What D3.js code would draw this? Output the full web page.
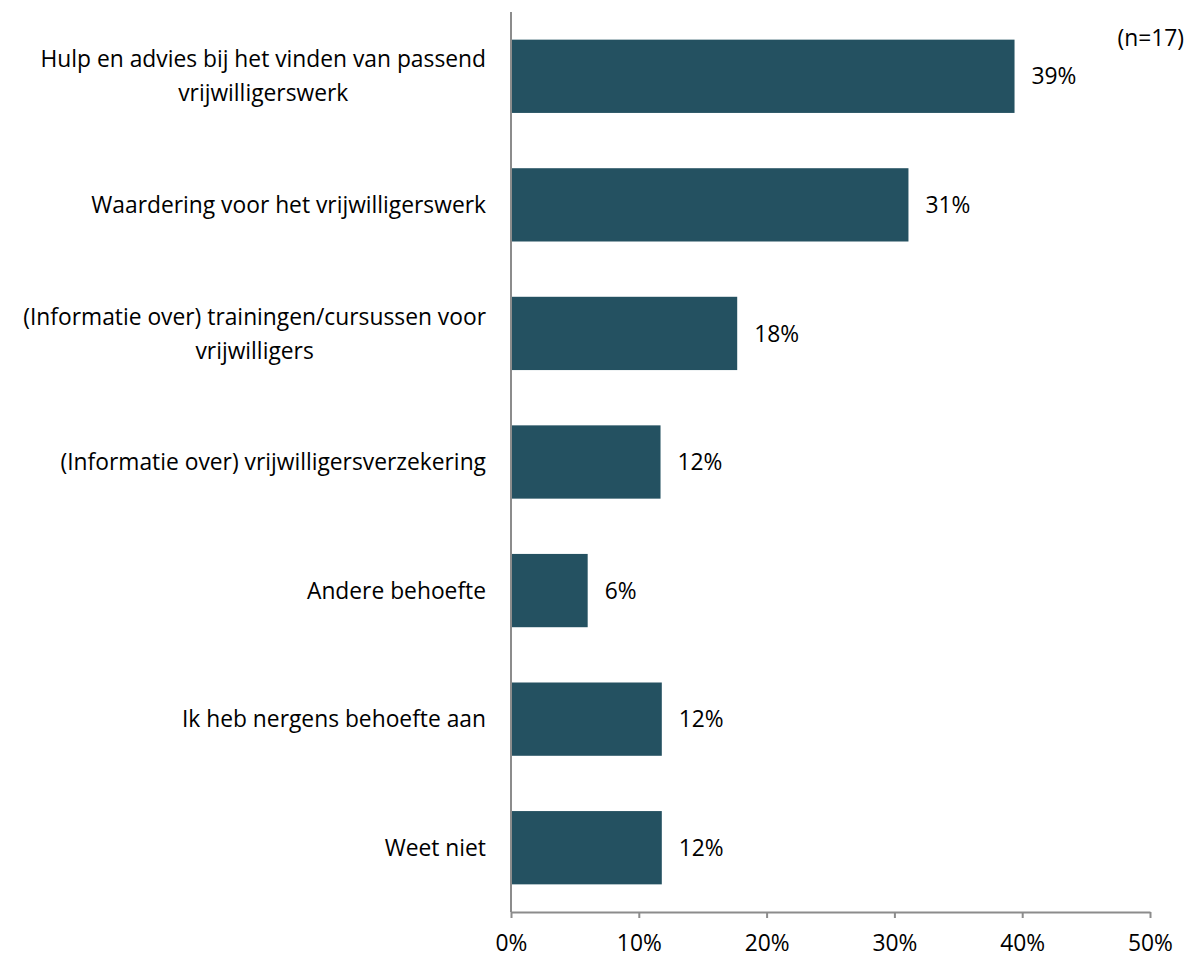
<!DOCTYPE html>
<html><head><meta charset="utf-8">
<script src="https://cdn.jsdelivr.net/npm/d3@7"></script>
<style>body{margin:0;background:#fff}svg{display:block}text{font-family:"Open Sans",sans-serif;fill:#000}</style>
</head><body>
<svg id="c" width="1191" height="961"></svg>
<script>
const categories = [
  ["Hulp en advies bij het vinden van passend", "vrijwilligerswerk"],
  ["Waardering voor het vrijwilligerswerk"],
  ["(Informatie over) trainingen/cursussen voor", "vrijwilligers"],
  ["(Informatie over) vrijwilligersverzekering"],
  ["Andere behoefte"],
  ["Ik heb nergens behoefte aan"],
  ["Weet niet"]
];
const values = [39.4, 31.1, 17.7, 11.7, 6.0, 11.8, 11.8];
const valueLabels = ["39%", "31%", "18%", "12%", "6%", "12%", "12%"];
const tickValues = [0, 10, 20, 30, 40, 50];
const note = "(n=17)";

(function(){
const svg = d3.select("#c");
const pL = 511, pR = 1150, pT = 12, pB = 912;
const x = d3.scaleLinear().domain([0, 50]).range([pL, pR]);
const y = d3.scaleBand().domain(d3.range(categories.length)).range([pT, pB]).paddingInner(0.43).paddingOuter(0.215);
const fs = 22.8;

svg.selectAll("rect.bar").data(values).join("rect").attr("class", "bar")
  .attr("x", x(0)).attr("y", (d, i) => y(i))
  .attr("width", d => x(d) - x(0)).attr("height", y.bandwidth())
  .attr("fill", "#245161");

svg.selectAll("text.val").data(values).join("text").attr("class", "val")
  .attr("x", d => x(d) + 17).attr("y", (d, i) => y(i) + y.bandwidth() / 2)
  .attr("dy", "0.36em").attr("font-size", fs)
  .text((d, i) => valueLabels[i]);

const labRight = 486, lh = 34;
svg.selectAll("text.cat").data(categories).join("text").attr("class", "cat")
  .attr("text-anchor", "middle").attr("font-size", fs)
  .each(function(lines, i) {
    const t = d3.select(this);
    const cy = y(i) + y.bandwidth() / 2;
    const spans = lines.map((ln, j) => t.append("tspan")
      .attr("y", cy + (j - (lines.length - 1) / 2) * lh).attr("dy", "0.36em").text(ln));
    const maxW = d3.max(spans, s => s.node().getComputedTextLength());
    spans.forEach(s => s.attr("x", labRight - maxW / 2));
  });

const ax = svg.append("g").attr("transform", `translate(0,${pB})`)
  .call(d3.axisBottom(x).tickValues(tickValues).tickSize(6).tickSizeOuter(0).tickFormat(d => d + "%"));
ax.select(".domain").attr("stroke", "#8c8c8c").attr("stroke-width", 2);
ax.selectAll(".tick line").attr("stroke", "#8c8c8c").attr("stroke-width", 2);
ax.selectAll(".tick text").attr("font-size", fs).attr("font-family", "Open Sans").attr("fill", "#000").attr("dy", "1.3em");

svg.append("line").attr("x1", pL).attr("x2", pL).attr("y1", pT).attr("y2", pB)
  .attr("stroke", "#8c8c8c").attr("stroke-width", 2);

svg.append("text").attr("x", 1184).attr("y", 38).attr("dy", "0.36em").attr("text-anchor", "end").attr("font-size", fs).text(note);
})();
</script>
</body></html>
